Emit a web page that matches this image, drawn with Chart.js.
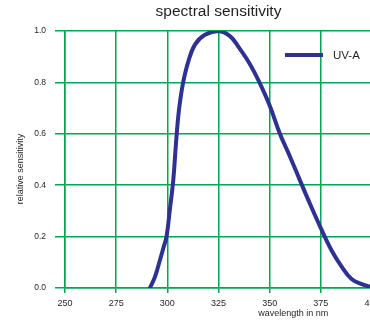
<!DOCTYPE html>
<html>
<head>
<meta charset="utf-8">
<script src="https://cdn.jsdelivr.net/npm/chart.js@4"></script>
<style>
html,body{margin:0;padding:0;background:#fff;overflow:hidden;width:370px;height:322px;}
canvas{display:block;}
</style>
</head>
<body>
<canvas id="c" width="385" height="322"></canvas>
<script>
const wavelengths = [291.5, 294, 296.4, 298, 299.6, 301.3, 302.9, 304.2, 305.3, 306.2, 307.8, 310.2, 313.5, 318.4, 325, 330.6, 334.6, 340.3, 345, 350, 355, 360, 365, 370, 375, 380, 385, 390, 395, 400];
const sensitivity = [0.0, 0.044, 0.109, 0.154, 0.2, 0.31, 0.42, 0.56, 0.665, 0.725, 0.803, 0.88, 0.947, 0.985, 1.0, 0.98, 0.94, 0.872, 0.8, 0.71, 0.6, 0.51, 0.415, 0.322, 0.233, 0.15, 0.085, 0.035, 0.015, 0.003];
const xTicks = [250, 275, 300, 325, 350, 375, 400];
const yTicks = [0.0, 0.2, 0.4, 0.6, 0.8, 1.0];
const seriesLabel = 'UV-A';
const titleText = 'spectral sensitivity';
const xTitle = 'wavelength in nm';
const yTitle = 'relative sensitivity';

const GREEN = '#00A651';
const BLUE = '#2E3192';
const TEXT = '#231F20';
const FONT = '"Liberation Sans", Arial, sans-serif';

const points = wavelengths.map((w, i) => ({x: w, y: sensitivity[i]}));

const extras = {
  id: 'extras',
  afterDraw(chart) {
    const ctx = chart.ctx;
    const a = chart.chartArea;
    const ds = chart.data.datasets[0];
    ctx.save();
    // title, centred over the plot area
    ctx.fillStyle = TEXT;
    ctx.font = '15.5px ' + FONT;
    ctx.textBaseline = 'middle';
    ctx.textAlign = 'center';
    ctx.fillText(titleText, (a.left + a.right) / 2, 12);
    // legend
    const lx = a.right - 87, ly = a.top + 24;
    ctx.strokeStyle = ds.borderColor;
    ctx.lineWidth = 4;
    ctx.beginPath();
    ctx.moveTo(lx, ly);
    ctx.lineTo(lx + 38, ly);
    ctx.stroke();
    ctx.font = '11.5px ' + FONT;
    ctx.textAlign = 'left';
    ctx.fillText(ds.label, lx + 48, ly + 0.5);
    // x title
    ctx.font = '9px ' + FONT;
    ctx.textAlign = 'center';
    ctx.fillText(xTitle, chart.scales.x.getPixelForValue(361.5), a.bottom + 26);
    // y title
    ctx.translate(21, (a.top + a.bottom) / 2 + 9.5);
    ctx.rotate(-Math.PI / 2);
    ctx.fillText(yTitle, 0, 0);
    ctx.restore();
  }
};

new Chart(document.getElementById('c'), {
  type: 'line',
  data: {
    datasets: [{
      label: seriesLabel,
      data: points,
      borderColor: BLUE,
      backgroundColor: BLUE,
      borderWidth: 4,
      pointRadius: 0,
      tension: 0.4,
      borderCapStyle: 'round',
      borderJoinStyle: 'round',
      fill: false
    }]
  },
  options: {
    responsive: false,
    animation: false,
    layout: {padding: {left: 0, right: 13, top: 31, bottom: 0}},
    plugins: {
      legend: {display: false},
      tooltip: {enabled: false},
      title: {display: false}
    },
    scales: {
      x: {
        type: 'linear',
        min: 250, max: 400,
        afterBuildTicks(s) { s.ticks = xTicks.map(v => ({value: v})); },
        afterFit(s) { s.height = 34; },
        grid: {color: GREEN, lineWidth: 1.5, tickLength: 5, drawTicks: true, tickColor: GREEN},
        border: {color: GREEN, width: 1.5},
        ticks: {color: TEXT, font: {family: FONT, size: 9}, padding: 5, maxRotation: 0, autoSkip: false}
      },
      y: {
        type: 'linear',
        min: 0, max: 1,
        afterBuildTicks(s) { s.ticks = yTicks.map(v => ({value: v})); },
        afterFit(s) { s.width = 65; },
        grid: {color: GREEN, lineWidth: 1.5, tickLength: 10, drawTicks: true, tickColor: GREEN},
        border: {color: GREEN, width: 1.5},
        ticks: {color: TEXT, font: {family: FONT, size: 8.5}, padding: 9, callback: v => Number(v).toFixed(1)}
      }
    }
  },
  plugins: [extras]
});
</script>
</body>
</html>
